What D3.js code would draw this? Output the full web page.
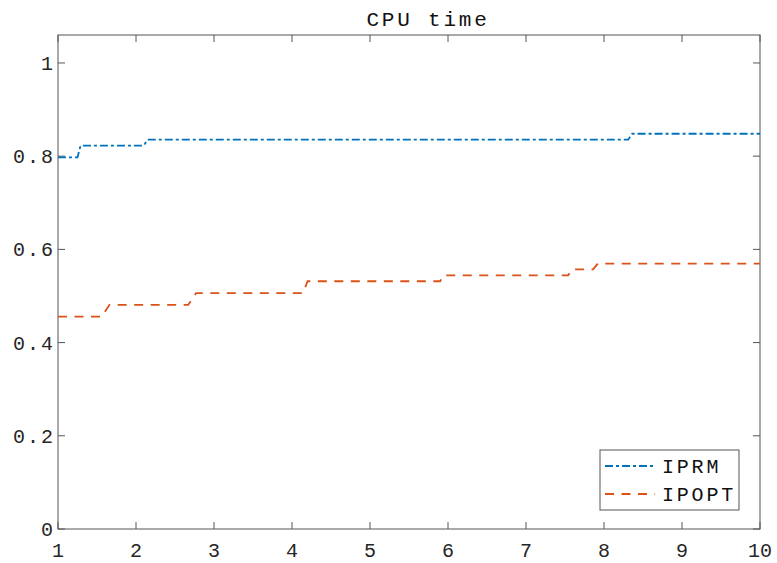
<!DOCTYPE html>
<html><head><meta charset="utf-8">
<script src="https://cdn.jsdelivr.net/npm/d3@7"></script>
<style>body{margin:0;background:#fff}svg{display:block}</style>
</head><body>
<svg id="c" width="777" height="563"></svg>
<script>
const title = "CPU time";
const xTicks = [1,2,3,4,5,6,7,8,9,10];
const yTicks = [0,0.2,0.4,0.6,0.8,1];
const seriesNames = ["IPRM","IPOPT"];
const iprmTau = [1, 1.25, 1.29, 2.10, 2.15, 8.31, 8.36, 10];
const iprmVal = [0.7975, 0.7975, 0.8228, 0.8228, 0.8354, 0.8354, 0.8481, 0.8481];
const ipoptTau = [1, 1.56, 1.66, 2.67, 2.77, 4.14, 4.20, 5.90, 5.94, 7.54, 7.59, 7.86, 7.92, 10];
const ipoptVal = [0.4557, 0.4557, 0.4810, 0.4810, 0.5063, 0.5063, 0.5316, 0.5316, 0.5443, 0.5443, 0.5570, 0.5570, 0.5696, 0.5696];

const svg = d3.select("#c");
const L=58, R=760, T=35, B=529;
const x = d3.scaleLinear().domain([1,10]).range([L,R]);
const y = d3.scaleLinear().domain([0,1.06]).range([B,T]);
const font = "'Liberation Mono', 'DejaVu Sans Mono', monospace";
const axisCol = "#555";
const textCol = "#262626";

svg.append("rect").attr("x",L).attr("y",T).attr("width",R-L).attr("height",B-T)
  .attr("fill","none").attr("stroke",axisCol).attr("stroke-width",1);

const tl = 7;
const g = svg.append("g").attr("stroke",axisCol).attr("stroke-width",1);
xTicks.forEach(t=>{
  g.append("line").attr("x1",x(t)).attr("x2",x(t)).attr("y1",B).attr("y2",B-tl);
  g.append("line").attr("x1",x(t)).attr("x2",x(t)).attr("y1",T).attr("y2",T+tl);
});
yTicks.forEach(t=>{
  g.append("line").attr("x1",L).attr("x2",L+tl).attr("y1",y(t)).attr("y2",y(t));
  g.append("line").attr("x1",R).attr("x2",R-tl).attr("y1",y(t)).attr("y2",y(t));
});

svg.append("g").selectAll("text").data(xTicks).join("text")
  .attr("x",d=>x(d)).attr("y",557).attr("text-anchor","middle")
  .attr("font-family",font).attr("font-size",20).attr("fill",textCol)
  .text(d=>d);
svg.append("g").selectAll("text").data(yTicks).join("text")
  .attr("x",55).attr("y",d=>y(d)+7).attr("text-anchor","end")
  .attr("font-family",font).attr("font-size",20).attr("fill",textCol)
  .attr("letter-spacing","2px")
  .text(d=>d===0?"0":(d===1?"1":d3.format(".1f")(d)));

svg.append("text").attr("x",428).attr("y",26).attr("text-anchor","middle")
  .attr("font-family",font).attr("font-size",21).attr("fill","#111")
  .attr("letter-spacing","2.8px")
  .text(title);

const line = d3.line().x(d=>x(d[0])).y(d=>y(d[1]));
const series = [
  {name:seriesNames[0], pts:iprmTau.map((t,i)=>[t,iprmVal[i]]), color:"#0072BD", dash:"8,3,3,3"},
  {name:seriesNames[1], pts:ipoptTau.map((t,i)=>[t,ipoptVal[i]]), color:"#D95319", dash:"9,7.5"}
];
svg.append("g").selectAll("path").data(series).join("path")
  .attr("d",d=>line(d.pts)).attr("fill","none")
  .attr("stroke",d=>d.color).attr("stroke-width",1.8)
  .attr("stroke-dasharray",d=>d.dash);

const lg = svg.append("g");
lg.append("rect").attr("x",600).attr("y",450).attr("width",139).attr("height",60)
  .attr("fill","#fff").attr("stroke",axisCol).attr("stroke-width",1);
series.forEach((s,i)=>{
  const yy = 466 + i*28;
  lg.append("line").attr("x1",605).attr("x2",655).attr("y1",yy).attr("y2",yy)
    .attr("stroke",s.color).attr("stroke-width",1.8).attr("stroke-dasharray",s.dash);
  lg.append("text").attr("x",662).attr("y",yy+7).attr("font-family",font)
    .attr("font-size",20).attr("letter-spacing","2.8px").attr("fill","#111").text(s.name);
});
</script>
</body></html>
